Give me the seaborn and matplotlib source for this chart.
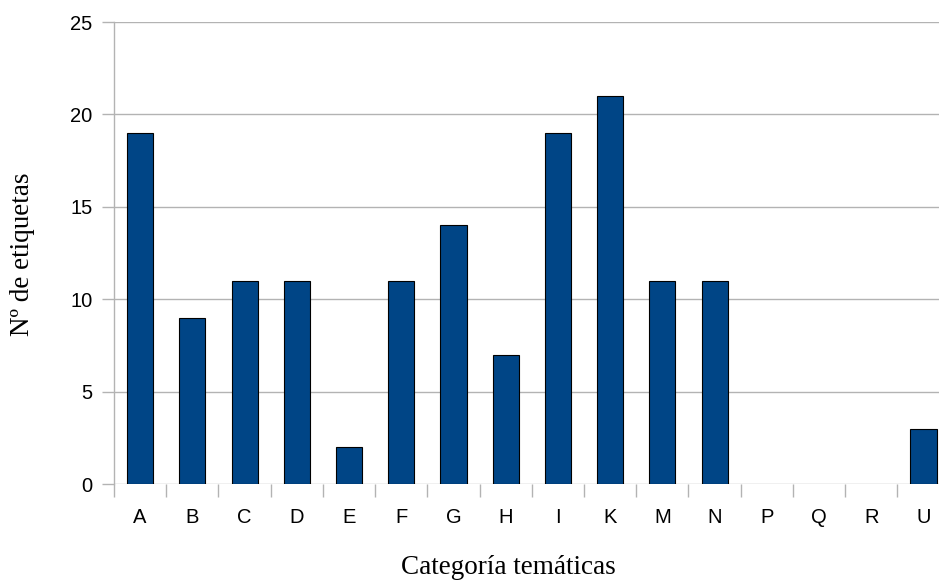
import matplotlib
matplotlib.use("Agg")
import pandas as pd
import matplotlib.pyplot as plt
import seaborn as sns

# Datos
categorias = ["A", "B", "C", "D", "E", "F", "G", "H", "I", "K", "M", "N", "P", "Q", "R", "U"]
etiquetas = [19, 9, 11, 11, 2, 11, 14, 7, 19, 21, 11, 11, 0, 0, 0, 3]

df = pd.DataFrame({"categoria": categorias, "etiquetas": etiquetas})

sns.set_theme(style="white")
plt.rcParams["font.family"] = ["Liberation Sans", "DejaVu Sans"]
plt.rcParams["text.color"] = "black"
plt.rcParams["axes.labelcolor"] = "black"

fig = plt.figure(figsize=(9.39, 5.81), dpi=100)
ax = fig.add_axes([114 / 939, 1 - 484 / 581, (949.6 - 114) / 939, (484 - 22) / 581])

sns.barplot(data=df, x="categoria", y="etiquetas", color="#004586",
            width=0.5, edgecolor="black", linewidth=0.8, saturation=1, ax=ax, zorder=3)

# las barras con valor 0 no se dibujan
for p in ax.patches:
    if p.get_height() == 0:
        p.set_visible(False)

ax.set_ylim(0, 25)
ax.set_xlim(-0.5, len(categorias) - 0.5)
ax.set_yticks([0, 5, 10, 15, 20, 25])
ax.yaxis.grid(True, color="#b3b3b3", linewidth=1)
ax.set_axisbelow(True)

for side in ["top", "right", "bottom"]:
    ax.spines[side].set_visible(False)
ax.spines["left"].set_color("#b3b3b3")
ax.spines["left"].set_linewidth(1)

# marcas del eje x entre categorías
ax.set_xticks([i - 0.5 for i in range(len(categorias))] + [len(categorias) - 0.5], minor=True)
ax.set_xticks(range(len(categorias)))
ax.set_xticklabels(categorias)
ax.tick_params(axis="x", which="major", length=0, pad=17, labelsize=14.5, labelcolor="black")
ax.tick_params(axis="x", which="minor", length=9, width=1, color="#b3b3b3", bottom=True)
ax.tick_params(axis="y", length=8.5, width=1, color="#b3b3b3", labelsize=14.5, pad=7,
               left=True, labelcolor="black")

ax.set_xlabel("Categoría temáticas", fontfamily="Liberation Serif", fontsize=19.5, color="black")
ax.set_ylabel("Nº de etiquetas", fontfamily="Liberation Serif", fontsize=19.5, color="black")
ax.xaxis.set_label_coords((508.5 - 114) / 835.6, -(567 - 484) / 462)
ax.xaxis.label.set_va("center")
ax.yaxis.set_label_coords((23 - 114) / 835.6, (484 - 254) / 462)
ax.yaxis.label.set_va("center")

fig.savefig("out.png", dpi=100)
